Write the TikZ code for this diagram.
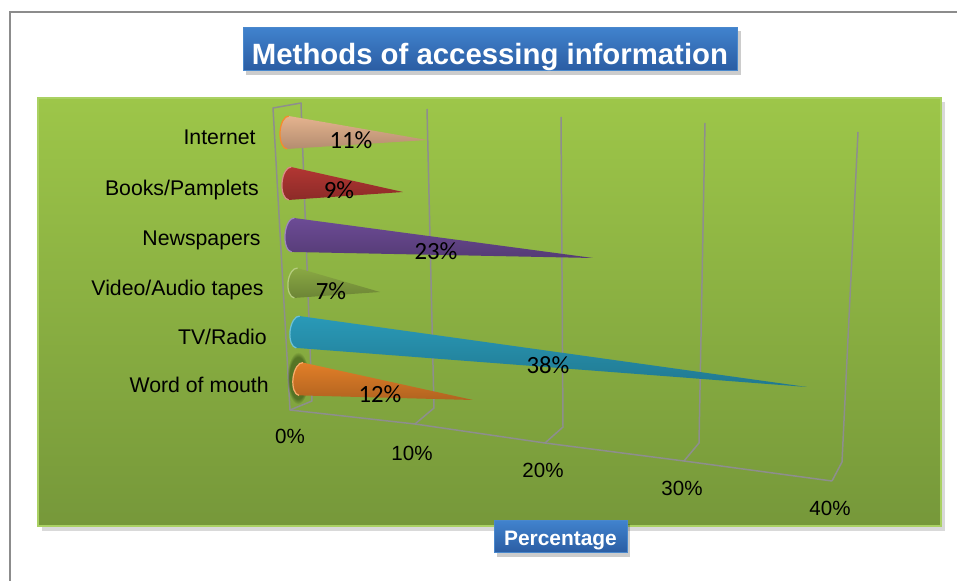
\documentclass[tikz,border=0pt]{standalone}
\usepackage{fontspec}
\setmainfont{Liberation Sans}
\newfontfamily\valfont{Carlito}
\usetikzlibrary{calc,fadings}

\definecolor{framegray}{HTML}{8C8C8C}
\definecolor{axisgray}{HTML}{8E8E8E}
\definecolor{panelTop}{HTML}{9DC649}
\definecolor{panelBot}{HTML}{76983A}
\definecolor{panelEdge}{HTML}{AAD163}
\definecolor{boxTop}{HTML}{4183CE}
\definecolor{boxBot}{HTML}{2B5DA3}
\definecolor{boxEdge}{HTML}{4A88CC}
\definecolor{wallshade}{HTML}{2F4A10}
\definecolor{coneInet}{HTML}{F9C39B}
\definecolor{coneBook}{HTML}{C23B37}
\definecolor{conePaper}{HTML}{7652A3}
\definecolor{coneTape}{HTML}{96B84A}
\definecolor{coneTV}{HTML}{2DA7C8}
\definecolor{coneWord}{HTML}{F68A2C}

\tikzstyle{axisline}=[draw=axisgray,line width=0.85pt,line join=round]
\tikzstyle{catlabel}=[anchor=east,inner sep=0pt,text height=8.7pt,text depth=0pt,font=\fontsize{12.1}{14}\selectfont]
\tikzstyle{ticklabel}=[inner sep=0pt,text height=8.4pt,text depth=0pt,font=\fontsize{11.7}{14}\selectfont]
\tikzstyle{vallabel}=[inner sep=0pt,text height=9pt,text depth=0pt,font=\valfont\fontsize{14.1}{16}\selectfont]
\tikzstyle{bluebox}=[draw=boxEdge,line width=0.4pt,top color=boxTop,bottom color=boxBot,text=white,inner sep=0pt]

\begin{document}
\begin{tikzpicture}[x=0.02cm,y=-0.02cm]
\useasboundingbox (0,0) rectangle (957,581);
\def \rx {8};

% outer frame
\draw[framegray,line width=0.6pt] (10,581) -- (10,12) -- (957,12);

% plot area
\fill[black,opacity=0.15] (42,102) rectangle (945,531);
\shade[top color=panelTop,bottom color=panelBot] (38,98) rectangle (941,526);
\draw[panelEdge,line width=0.8pt] (38,98) rectangle (941,526);

% back wall and floor
\coordinate (c0) at (290,410);
\draw[axisline] (c0) -- (273,108) -- (301,103) -- (312,401) -- cycle;
\draw[axisline] (c0) -- (415,424) -- (545,443) -- (684,461) -- (832,481);
\foreach \i/\fx/\fy/\kx/\ky/\tx/\ty in {1/415/424/434/408/427/109, 2/545/443/563/427/561/117, 3/684/461/699/443/705/123, 4/832/481/842/462/858/132} {
	\coordinate (f\i) at (\fx,\fy);
	\coordinate (k\i) at (\kx,\ky);
	\coordinate (t\i) at (\tx,\ty);
	\draw[axisline] (f\i) -- (k\i) -- (t\i);
};

\foreach \i/\lx/\ly in {0/290/436, 10/412/453, 20/543/470, 30/682/488, 40/830/508} {
	\node[ticklabel] (tick\i) at (\lx,\ly) {\i\%};
};

% shadow on the wall
\fill[wallshade,opacity=0.55,path fading=circle with fuzzy edge 20 percent] (298,378) ellipse[x radius=11,y radius=26];

% cones
\foreach \i/\bx/\by/\ry/\ax/\ay/\col/\rim in {
	1/288/132.5/16.5/427/140/coneInet/coneWord,
	2/290/183.5/16.5/403/192/coneBook/coneBook!60!white,
	3/293/235/17/593/258/conePaper/conePaper!70!white,
	4/296/283/15/380/292/coneTape/coneTape!70!white,
	5/298/332/16/807/387/coneTV/coneTV!70!white,
	6/301/379/16.5/473/400/coneWord/coneWord!70!white} {
	\pgfmathsetmacro\len{veclen(\ax-\bx,\ay-\by)}
	\pgfmathsetmacro\ang{atan2(\by-\ay,\ax-\bx)}
	\begin{scope}[shift={(\bx,\by)},rotate=\ang]
		\shade[top color=\col!92!black,middle color=\col!80!white,bottom color=\col!72!black]
		(0,-\ry) arc[start angle=270,end angle=90,x radius=\rx,y radius=\ry] -- (\len,0) -- cycle;
		\draw[\rim,line width=0.7pt] (0,-\ry) arc[start angle=270,end angle=90,x radius=\rx,y radius=\ry];
	\end{scope}
};

\foreach \i/\t/\lx/\ly in {1/Internet/256/137, 2/{Books/Pamplets}/259/188, 3/Newspapers/261/238, 4/{Video/Audio tapes}/264/288, 5/{TV/Radio}/267/337, 6/Word of mouth/269/385} {
	\node[catlabel] (cat\i) at (\lx,\ly) {\t};
};

\foreach \i/\v/\lx/\ly in {1/11/351/141, 2/9/339/191, 3/23/436/252, 4/7/331/292, 5/38/548/366, 6/12/380/395} {
	\node[vallabel] (val\i) at (\lx,\ly) {\v\%};
};

% title and axis title
\fill[black,opacity=0.2] (246,31) rectangle (741,75);
\node[bluebox,minimum width=9.88cm,minimum height=0.86cm,text height=18pt,text depth=0pt,font=\fontsize{16.7}{20}\selectfont\bfseries] (title) at (490,48.5) {Methods of accessing information};

\fill[black,opacity=0.2] (497,524) rectangle (630,557);
\node[bluebox,minimum width=2.66cm,minimum height=0.65cm,text height=9.9pt,text depth=0pt,font=\fontsize{11.9}{14}\selectfont\bfseries] (xtitle) at (560.5,536.3) {Percentage};

\end{tikzpicture}
\end{document}
